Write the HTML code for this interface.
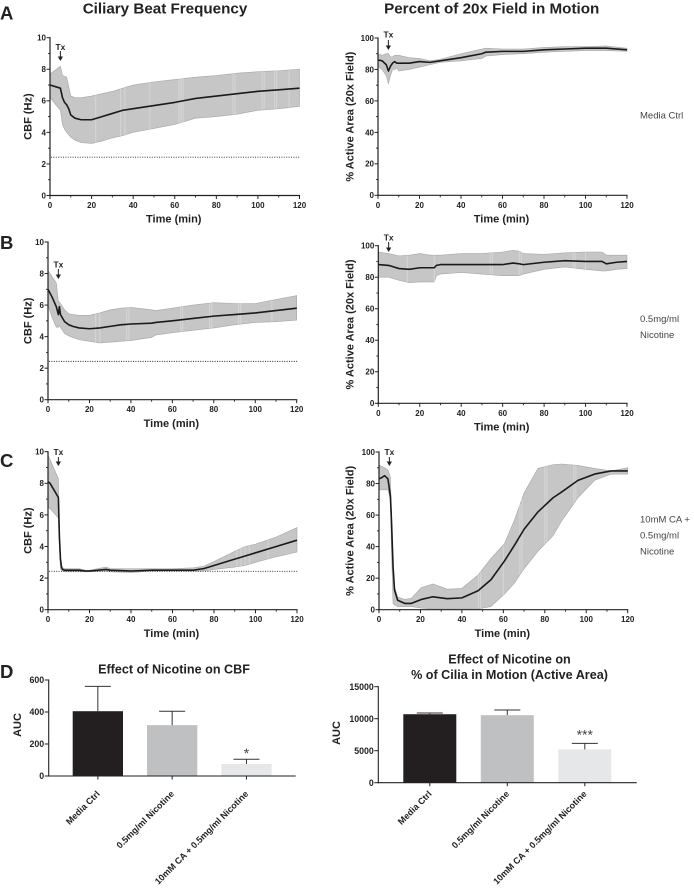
<!DOCTYPE html>
<html lang="en">
<head>
<meta charset="utf-8">
<title>Effect of Nicotine on Ciliary Beat Frequency and Active Area</title>
<style>
html,body{margin:0;padding:0;background:#fff;}
body{width:694px;height:889px;overflow:hidden;}
#figure{display:block;filter:blur(0.3px);}
text{font-family:"Liberation Sans",sans-serif;fill:#222;}
</style>
</head>
<body>
<svg id="figure" xmlns="http://www.w3.org/2000/svg" width="694" height="889" viewBox="0 0 694 889">
  <text x="165" y="13.3" text-anchor="middle" font-size="15.2" font-weight="700">Ciliary Beat Frequency</text>
  <text x="491.7" y="13.3" text-anchor="middle" font-size="15.2" font-weight="700">Percent of 20x Field in Motion</text>
  <text x="0" y="19.5" font-size="18.5" font-weight="700">A</text>
  <text x="0" y="249" font-size="18.5" font-weight="700">B</text>
  <text x="0" y="467" font-size="18.5" font-weight="700">C</text>
  <text x="0" y="678" font-size="18.5" font-weight="700">D</text>
  <text x="640" y="118.5" font-size="9.5" style="fill:#444">Media Ctrl</text>
  <text x="640" y="322" font-size="9.5" style="fill:#444">0.5mg/ml</text>
  <text x="640" y="338" font-size="9.5" style="fill:#444">Nicotine</text>
  <text x="640" y="522.5" font-size="9.5" style="fill:#444">10mM CA +</text>
  <text x="640" y="538.5" font-size="9.5" style="fill:#444">0.5mg/ml</text>
  <text x="640" y="554.5" font-size="9.5" style="fill:#444">Nicotine</text>
  <text x="174" y="673.5" text-anchor="middle" font-size="12.6" font-weight="700">Effect of Nicotine on CBF</text>
  <text x="509.5" y="663.5" text-anchor="middle" font-size="12.6" font-weight="700">Effect of Nicotine on</text>
  <text x="509.5" y="679" text-anchor="middle" font-size="12.6" font-weight="700">% of Cilia in Motion (Active Area)</text>
</svg>
<script>
// Panel A, CBF
const aCbfTimes = [0,5,6,7,8,9,10,12,15,20,25,30,35,40,50,60,70,80,90,100,110,120];
const aCbfMean  = [7.0,6.8,6.2,5.9,5.75,5.5,5.1,4.9,4.8,4.8,5.0,5.2,5.4,5.5,5.7,5.9,6.15,6.3,6.45,6.6,6.7,6.8];
const aCbfUpper = [7.7,8.2,7.6,7.55,7.5,6.9,6.3,6.2,6.2,6.3,6.45,6.6,6.8,7.0,7.2,7.35,7.5,7.6,7.75,7.85,7.9,8.0];
const aCbfLower = [6.2,5.4,4.5,4.2,4.0,3.85,3.7,3.5,3.35,3.3,3.45,3.65,3.8,4.0,4.25,4.5,4.9,5.0,5.15,5.4,5.5,5.65];
const aCbfGaps  = [22,34,36,48,62,63,64,88,89,102,103,108,109,115];
// Panel A, active area
const aAreaTimes = [0,2,4,5,6,7,8,9,10,15,20,25,30,40,50,52,60,70,80,90,100,110,120];
const aAreaMean  = [86,85.5,83,79,82,84,85,84,84,84,85,84.5,85.5,87.5,90,91,91.5,91.5,92.5,93,93.5,93.5,92.5];
const aAreaUpper = [90,89,90,90,88,88,89,89,89,87.5,87,85.5,86.5,90,93,93.5,93,93,94,94.5,94.5,95,93.5];
const aAreaLower = [82,80,76,71,76,80,80,81,79,80,81.5,83,84.5,85.5,87,88.5,89.5,90,91,91.5,92,92,91.5];
const aAreaGaps  = [];
// Panel B, CBF
const bCbfTimes = [0,2,4,5,5.5,6,8,10,12,15,20,25,30,35,40,50,52,60,70,80,90,100,110,120];
const bCbfMean  = [7.0,6.5,5.9,5.4,5.9,5.4,4.95,4.75,4.65,4.55,4.5,4.55,4.65,4.75,4.8,4.85,4.9,5.0,5.15,5.3,5.4,5.5,5.65,5.8];
const bCbfUpper = [8.2,7.8,7.4,6.2,6.2,6.1,5.7,5.45,5.4,5.35,5.35,5.5,5.7,5.8,5.85,5.7,5.65,5.8,6.0,6.15,6.1,6.1,6.35,6.6];
const bCbfLower = [6.0,5.2,4.6,4.6,4.7,4.6,4.2,4.05,3.95,3.8,3.7,3.6,3.65,3.7,3.75,3.95,4.1,4.25,4.4,4.55,4.75,4.9,4.95,5.05];
const bCbfGaps  = [23,25,38,39,64,65,78,79,92,93,108];
// Panel B, active area
const bAreaTimes = [0,5,10,15,20,25,27,28,30,40,50,60,65,68,70,80,90,100,108,110,115,120];
const bAreaMean  = [88,87.5,85.5,85,86,86,86,87.5,88,88,88,88,89,88.5,88,89.5,90.5,90,90,88.5,89.5,90];
const bAreaUpper = [96,95,93.5,94,95,94,94,94,94,95,95,96,97,96.5,95,94.5,95.5,96,96,94,94,94];
const bAreaLower = [80,80,78,76.5,77,77,77,81,82,83,82,81,81,81,82,85,86.5,85,84,84,85,85.5];
const bAreaGaps  = [14,27,54,55,68,69,94,95,100];
// Panel C, CBF
const cCbfTimes = [0,1,5,5.5,6,6.5,7,8,10,15,18,20,28,30,40,50,60,70,75,80,90,95,100,110,120];
const cCbfMean  = [8.1,8.0,7.1,4.6,3.2,2.7,2.55,2.5,2.5,2.5,2.45,2.45,2.55,2.5,2.45,2.5,2.5,2.5,2.6,2.8,3.2,3.4,3.6,4.0,4.4];
const cCbfUpper = [9.8,9.5,8.3,5,3.3,2.8,2.65,2.6,2.6,2.6,2.5,2.5,2.7,2.6,2.6,2.6,2.6,2.65,2.75,3.05,3.7,4.0,4.15,4.6,5.2];
const cCbfLower = [6.5,6.4,5.8,4,2.6,2.5,2.45,2.4,2.4,2.4,2.4,2.4,2.45,2.4,2.35,2.45,2.45,2.45,2.45,2.55,2.7,2.8,3.0,3.35,3.65];
const cCbfGaps  = [91,93,95,97,106];
// Panel C, active area
const cAreaTimes = [0,1,2.7,4.3,5.5,6,6.8,7.5,9,12.4,15.6,20.4,26,33,40,47.8,54,60.6,65.4,70,76.7,84,88,96,104,112,120];
const cAreaMean  = [83,83.5,85,83,72,57,27,12.5,6,4,4,6.5,8.2,7,7.5,12,19,31,41,51,62,71,74.5,82,86,88,88];
const cAreaUpper = [91.8,91,90,88.6,84,62,29,14.6,8,6.5,7.2,14,16.3,13,13.5,22,32.5,42,57,74,89.6,92,92.4,91.5,89.6,88,90];
const cAreaLower = [76,76,76,76,70,38,4,3,2,2,2,1,0.5,0.5,0.5,0.5,2,10,17,26,37,47,56,71,82,86,86];
const cAreaGaps  = [48,49,60,68,69,80,81,94,95];
// Shared axis ticks
const timeTicks = [0,20,40,60,80,100,120];
const timeMinorTicks = [10,30,50,70,90,110];
const cbfTicks = [0,2,4,6,8,10];
const cbfMinorTicks = [1,3,5,7,9];
const areaTicks = [0,20,40,60,80,100];
const areaMinorTicks = [10,30,50,70,90];
const treatmentTime = 5;
const cbfThreshold = 2.43;
// Bar charts
const barCategories = ["Media Ctrl","0.5mg/ml Nicotine","10mM CA + 0.5mg/ml Nicotine"];
const barColors = ["#231f20","#bfc0c2","#e6e7e8"];
const cbfAuc = [405,318,75];
const cbfAucError = [560,405,105];
const cbfAucTicks = [0,200,400,600];
const cbfAucMarks = ["","","*"];
const areaAuc = [10700,10550,5200];
const areaAucError = [10900,11350,6150];
const areaAucTicks = [0,5000,10000,15000];
const areaAucMarks = ["","","***"];

const NS = "http://www.w3.org/2000/svg";
const svg = document.getElementById("figure");
function make(tag, parent, attrs, txt){
  const n = document.createElementNS(NS, tag);
  for(const k in attrs) n.setAttribute(k, attrs[k]);
  if(txt !== undefined) n.textContent = txt;
  parent.appendChild(n);
  return n;
}
function interp(ts, vs, t){
  for(let i = 1; i < ts.length; i++){
    if(t <= ts[i]){
      const f = (t - ts[i-1]) / (ts[i] - ts[i-1]);
      return vs[i-1] + f * (vs[i] - vs[i-1]);
    }
  }
  return vs[vs.length-1];
}
const lineCharts = [
 {id:"a-cbf",x0:50,x1:299.5,y0:195.5,y1:37.7,max:10,ticks:cbfTicks,minor:cbfMinorTicks,t:aCbfTimes,m:aCbfMean,u:aCbfUpper,l:aCbfLower,g:aCbfGaps,ylabel:"CBF (Hz)",yx:31.5,tx:[50,51,61],dotted:true},
 {id:"a-area",x0:378,x1:627,y0:195.3,y1:38,max:100,ticks:areaTicks,minor:areaMinorTicks,t:aAreaTimes,m:aAreaMean,u:aAreaUpper,l:aAreaLower,g:aAreaGaps,ylabel:"% Active Area (20x Field)",yx:353.5,tx:[37.5,40,50],dotted:false},
 {id:"b-cbf",x0:48,x1:296.7,y0:399.7,y1:242,max:10,ticks:cbfTicks,minor:cbfMinorTicks,t:bCbfTimes,m:bCbfMean,u:bCbfUpper,l:bCbfLower,g:bCbfGaps,ylabel:"CBF (Hz)",yx:31.5,tx:[267.7,269,279],dotted:true},
 {id:"b-area",x0:378.3,x1:627,y0:403.3,y1:245.7,max:100,ticks:areaTicks,minor:areaMinorTicks,t:bAreaTimes,m:bAreaMean,u:bAreaUpper,l:bAreaLower,g:bAreaGaps,ylabel:"% Active Area (20x Field)",yx:353.5,tx:[240.5,242,252],dotted:false},
 {id:"c-cbf",x0:48,x1:297,y0:609.7,y1:451.7,max:10,ticks:cbfTicks,minor:cbfMinorTicks,t:cCbfTimes,m:cCbfMean,u:cCbfUpper,l:cCbfLower,g:cCbfGaps,ylabel:"CBF (Hz)",yx:31.5,tx:[455,457,466],dotted:true},
 {id:"c-area",x0:379,x1:627.7,y0:609.7,y1:452,max:100,ticks:areaTicks,minor:areaMinorTicks,t:cAreaTimes,m:cAreaMean,u:cAreaUpper,l:cAreaLower,g:cAreaGaps,ylabel:"% Active Area (20x Field)",yx:353.5,tx:[455,457,466],dotted:false}
];
function drawLineChart(c){
  const X = v => c.x0 + (v / 120) * (c.x1 - c.x0);
  const Y = v => c.y0 + (v / c.max) * (c.y1 - c.y0);
  const g = make("g", svg, {});
  
  

  const upperPts = c.t.map((t,i) => X(t).toFixed(2) + "," + Y(c.u[i]).toFixed(2));
  const lowerPts = c.t.map((t,i) => X(t).toFixed(2) + "," + Y(c.l[i]).toFixed(2)).reverse();
  const band = make("polygon", g, {points:upperPts.concat(lowerPts).join(" "),fill:"#c6c6c6",stroke:"#a6a6a6","stroke-width":0.6});
  
  

  c.g.forEach(t => {
    const s = make("line", g, {x1:X(t),x2:X(t),y1:Y(interp(c.t,c.u,t)),y2:Y(interp(c.t,c.l,t)),stroke:"#d6d6d6","stroke-width":1});
    
    
  });

  if(c.dotted){
    const d = make("line", g, {x1:X(0)+1,x2:X(120)+1,y1:Y(cbfThreshold),y2:Y(cbfThreshold),stroke:"#222","stroke-width":0.9,"stroke-dasharray":"1 1.4"});
    
    
  }

  const mean = make("polyline", g, {points:c.t.map((t,i) => X(t).toFixed(2) + "," + Y(c.m[i]).toFixed(2)).join(" "),fill:"none",stroke:"#1a1a1a","stroke-width":1.6,"stroke-linejoin":"round"});
  
  

  const yAxis = make("line", g, {x1:c.x0,x2:c.x0,y1:c.y0+0.6,y2:c.y1-0.6,stroke:"#222","stroke-width":1.2});
  
  
  const xAxis = make("line", g, {x1:c.x0-0.6,x2:c.x1+0.6,y1:c.y0,y2:c.y0,stroke:"#222","stroke-width":1.2});
  
  

  c.ticks.forEach(v => {
    const t = make("line", g, {x1:c.x0-3.5,x2:c.x0,y1:Y(v),y2:Y(v),stroke:"#222","stroke-width":1});
    
    
    const l = make("text", g, {x:c.x0-4,y:Y(v)+2.9,"text-anchor":"end","font-size":8,"font-weight":700}, String(v));
    
    
  });
  c.minor.forEach(v => {
    const t = make("line", g, {x1:c.x0-2,x2:c.x0,y1:Y(v),y2:Y(v),stroke:"#222","stroke-width":0.9});
    
    
  });
  timeTicks.forEach(v => {
    const t = make("line", g, {x1:X(v),x2:X(v),y1:c.y0,y2:c.y0+3.5,stroke:"#222","stroke-width":1});
    
    
    const l = make("text", g, {x:X(v),y:c.y0+12.5,"text-anchor":"middle","font-size":8,"font-weight":700}, String(v));
    
    
  });
  timeMinorTicks.forEach(v => {
    const t = make("line", g, {x1:X(v),x2:X(v),y1:c.y0,y2:c.y0+2,stroke:"#222","stroke-width":0.9});
    
    
  });

  const xt = make("text", g, {x:(c.x0+c.x1)/2-1,y:c.y0+27.2,"text-anchor":"middle","font-size":11,"font-weight":700}, "Time (min)");
  
  
  const yc = (c.y0+c.y1)/2;
  const yt = make("text", g, {x:c.yx,y:yc,"text-anchor":"middle","font-size":11,"font-weight":700,transform:"rotate(-90 "+c.yx+" "+yc+")"}, c.ylabel);
  
  

  const tx = X(treatmentTime);
  const tl = make("text", g, {x:tx,y:c.tx[0],"text-anchor":"middle","font-size":8.4,"font-weight":700}, "Tx");
  
  
  const a = make("line", g, {x1:tx,x2:tx,y1:c.tx[1],y2:c.tx[2]-3,stroke:"#222","stroke-width":1});
  
  
  const h = make("polygon", g, {points:(tx-2.6)+","+(c.tx[2]-4.5)+" "+(tx+2.6)+","+(c.tx[2]-4.5)+" "+tx+","+c.tx[2],fill:"#222"});
  
  
}
lineCharts.forEach(drawLineChart);

const barCharts = [
 {id:"cbf-auc",ax:48.7,axEnd:295.7,y0:776,y1:680,max:600,bandStart:72.7,bandStep:74.3,barW:50.3,v:cbfAuc,e:cbfAucError,ticks:cbfAucTicks,marks:cbfAucMarks,markGap:1,ytx:21,ylabelY:725,labelY:794.5},
 {id:"area-auc",ax:378.3,axEnd:636.7,y0:782.7,y1:686.7,max:15000,bandStart:403.3,bandStep:77.5,barW:53,v:areaAuc,e:areaAucError,ticks:areaAucTicks,marks:areaAucMarks,markGap:4,ytx:340,ylabelY:733,labelY:794.5}
];
function drawBarChart(c){
  const Y = v => c.y0 + (v / c.max) * (c.y1 - c.y0);
  const g = make("g", svg, {});
  
  
  barCategories.forEach((name,i) => {
    const cx = c.bandStart + c.bandStep * i + c.barW / 2;
    const et = make("line", g, {x1:cx,x2:cx,y1:Y(c.e[i]),y2:Y(c.v[i]),stroke:"#333","stroke-width":1});
    
    
    const cap = make("line", g, {x1:cx-13,x2:cx+13,y1:Y(c.e[i]),y2:Y(c.e[i]),stroke:"#333","stroke-width":1});
    
    
    const b = make("rect", g, {x:cx-c.barW/2,y:Y(c.v[i]),width:c.barW,height:c.y0-Y(c.v[i]),fill:barColors[i]});
    
    
    const t = make("line", g, {x1:cx,x2:cx,y1:c.y0,y2:c.y0+3.5,stroke:"#222","stroke-width":1});
    
    
    const lx = cx + 2.5, ly = c.labelY;
    const l = make("text", g, {x:lx,y:ly,"text-anchor":"end","font-size":9,"font-weight":700,transform:"rotate(-45 "+lx+" "+ly+")"}, name);
    
    
    if(c.marks[i]){
      const m = make("text", g, {x:cx,y:Y(c.e[i])-c.markGap,"text-anchor":"middle","font-size":14,"font-weight":400,style:"fill:#444"}, c.marks[i]);
      
      
    }
  });
  const ya = make("line", g, {x1:c.ax,x2:c.ax,y1:c.y0+0.6,y2:c.y1-0.6,stroke:"#222","stroke-width":1.1});
  
  
  const xa = make("line", g, {x1:c.ax-0.5,x2:c.axEnd,y1:c.y0,y2:c.y0,stroke:"#222","stroke-width":1.1});
  
  
  c.ticks.forEach(v => {
    const t = make("line", g, {x1:c.ax-4,x2:c.ax,y1:Y(v),y2:Y(v),stroke:"#222","stroke-width":1});
    
    
    const l = make("text", g, {x:c.ax-4.5,y:Y(v)+3.1,"text-anchor":"end","font-size":8.8,"font-weight":700}, String(v));
    
    
  });
  const yt = make("text", g, {x:c.ytx,y:c.ylabelY,"text-anchor":"middle","font-size":11,"font-weight":700,transform:"rotate(-90 "+c.ytx+" "+c.ylabelY+")"}, "AUC");
  
  
}
barCharts.forEach(drawBarChart);
</script>
</body>
</html>
